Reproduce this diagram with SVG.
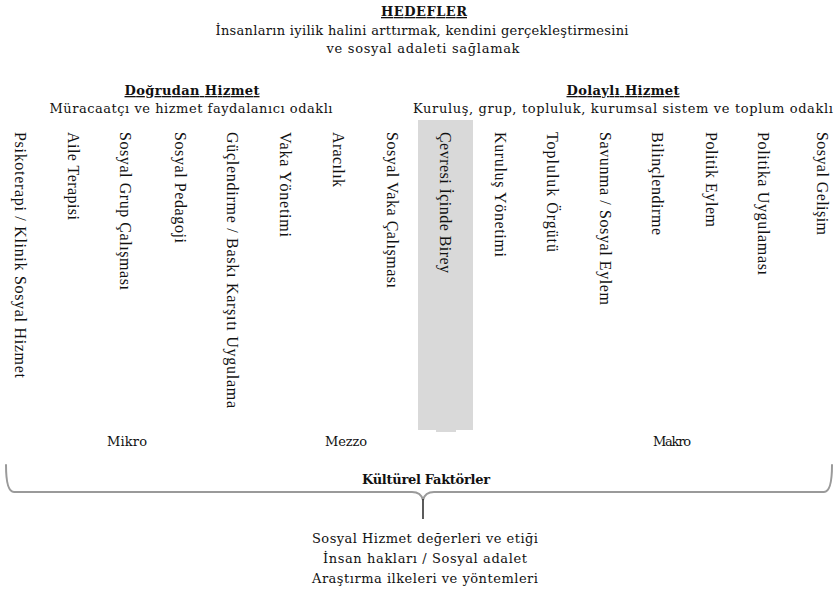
<svg xmlns="http://www.w3.org/2000/svg" width="834" height="592" viewBox="0 0 834 592">
<style>
  .h { font-family: "DejaVu Serif", "Liberation Serif", serif; font-size: 13px; fill: #111; text-anchor: middle; }
  .b { font-weight: bold; text-decoration: underline; }
  .v { font-family: "Liberation Serif", "Times New Roman", serif; font-size: 16px; fill: #111; dominant-baseline: central; }
  .brace { fill: none; stroke: #9a9a9a; stroke-width: 2; stroke-linecap: round; }
  .stem { fill: none; stroke: #333; stroke-width: 1.6; }
</style>
<rect width="834" height="592" fill="#ffffff"/>

<g id="hedefler">
  <text class="h b" x="424" y="16" textLength="86">HEDEFLER</text>
  <text class="h" x="422" y="35" textLength="413">İnsanların iyilik halini arttırmak, kendini gerçekleştirmesini</text>
  <text class="h" x="423" y="53" textLength="193">ve sosyal adaleti sağlamak</text>
</g>

<g id="dogrudan-hizmet">
  <text class="h b" x="192" y="95" textLength="135">Doğrudan Hizmet</text>
  <text class="h" x="191" y="113" textLength="283">Müracaatçı ve hizmet faydalanıcı odaklı</text>
</g>

<g id="dolayli-hizmet">
  <text class="h b" x="623" y="95" textLength="113">Dolaylı Hizmet</text>
  <text class="h" x="623" y="113" textLength="420">Kuruluş, grup, topluluk, kurumsal sistem ve toplum odaklı</text>
</g>

<g id="cevresi-icinde-birey">
  <rect x="418" y="120" width="55" height="310" fill="#d9d9d9"/>
  <rect x="436" y="429" width="20" height="3" fill="#d9d9d9"/>
  <text class="v" transform="translate(445,132) rotate(90)" textLength="141">Çevresi İçinde Birey</text>
</g>

<g id="psikoterapi"><text class="v" transform="translate(20,132) rotate(90)" textLength="246">Psikoterapi / Klinik Sosyal Hizmet</text></g>
<g id="aile-terapisi"><text class="v" transform="translate(73,132) rotate(90)" textLength="88">Aile Terapisi</text></g>
<g id="sosyal-grup"><text class="v" transform="translate(125,132) rotate(90)" textLength="158">Sosyal Grup Çalışması</text></g>
<g id="sosyal-pedagoji"><text class="v" transform="translate(180,132) rotate(90)" textLength="111">Sosyal Pedagoji</text></g>
<g id="guclendirme"><text class="v" transform="translate(232,132) rotate(90)" textLength="276">Güçlendirme / Baskı Karşıtı Uygulama</text></g>
<g id="vaka-yonetimi"><text class="v" transform="translate(285,132) rotate(90)" textLength="105">Vaka Yönetimi</text></g>
<g id="aracilik"><text class="v" transform="translate(338,132) rotate(90)" textLength="55">Aracılık</text></g>
<g id="sosyal-vaka"><text class="v" transform="translate(392,132) rotate(90)" textLength="156">Sosyal Vaka Çalışması</text></g>
<g id="kurulus-yonetimi"><text class="v" transform="translate(500,132) rotate(90)" textLength="125">Kuruluş Yönetimi</text></g>
<g id="topluluk-orgutu"><text class="v" transform="translate(552,132) rotate(90)" textLength="120">Topluluk Örgütü</text></g>
<g id="savunma"><text class="v" transform="translate(605,132) rotate(90)" textLength="173">Savunma / Sosyal Eylem</text></g>
<g id="bilinclendirme"><text class="v" transform="translate(657,132) rotate(90)" textLength="103">Bilinçlendirme</text></g>
<g id="politik-eylem"><text class="v" transform="translate(711,132) rotate(90)" textLength="95">Politik Eylem</text></g>
<g id="politika-uygulamasi"><text class="v" transform="translate(763,132) rotate(90)" textLength="143">Politika Uygulaması</text></g>
<g id="sosyal-gelisim"><text class="v" transform="translate(822,132) rotate(90)" textLength="103">Sosyal Gelişim</text></g>

<g id="mikro"><text class="h" x="127" y="446" textLength="40">Mikro</text></g>
<g id="mezzo"><text class="h" x="346" y="446" textLength="42">Mezzo</text></g>
<g id="makro"><text class="h" x="672" y="446" textLength="38">Makro</text></g>

<g id="kulturel-faktorler"><text class="h" x="426" y="484" font-weight="bold" textLength="128">Kültürel Faktörler</text></g>

<g id="connectors">
  <path class="brace" d="M6,465 Q6,492 14,492 L412,492 Q421,492 423,500 Q425,492 434,492 L824,492 Q832,492 832,465"/>
  <path class="stem" d="M423,499 L423,519"/>
</g>

<g id="temeller">
  <text class="h" x="425" y="543" textLength="226">Sosyal Hizmet değerleri ve etiği</text>
  <text class="h" x="425" y="563" textLength="204">İnsan hakları / Sosyal adalet</text>
  <text class="h" x="425" y="583" textLength="226">Araştırma ilkeleri ve yöntemleri</text>
</g>
</svg>
